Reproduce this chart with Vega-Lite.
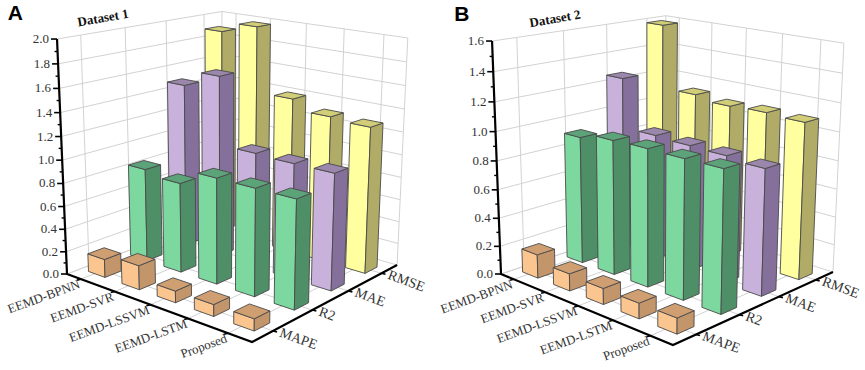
{
"$schema":"https://vega.github.io/schema/vega-lite/v6.json",
"width":865,"height":370,"padding":0,"background":"white",
"autosize":{"type":"fit","contains":"padding"},
"config":{"view":{"stroke":null}},
"data":{"values":[
{"panel":"A","kind":"edge","value":0},{"panel":"A","kind":"edge","value":1},
{"panel":"B","kind":"edge","value":0},{"panel":"B","kind":"edge","value":1},
{"panel":"A","kind":"axis"},{"panel":"B","kind":"axis"},
{"panel":"A","kind":"title","label":"Dataset 1"},{"panel":"B","kind":"title","label":"Dataset 2"},
{"panel":"A","kind":"letter","label":"A"},{"panel":"B","kind":"letter","label":"B"},
{"panel":"A","kind":"zgrid","value":0},{"panel":"A","kind":"zgrid","value":0.2},{"panel":"A","kind":"zgrid","value":0.4},{"panel":"A","kind":"zgrid","value":0.6},{"panel":"A","kind":"zgrid","value":0.8},{"panel":"A","kind":"zgrid","value":1.0},{"panel":"A","kind":"zgrid","value":1.2},{"panel":"A","kind":"zgrid","value":1.4},{"panel":"A","kind":"zgrid","value":1.6},{"panel":"A","kind":"zgrid","value":1.8},{"panel":"A","kind":"zgrid","value":2.0},
{"panel":"B","kind":"zgrid","value":0},{"panel":"B","kind":"zgrid","value":0.2},{"panel":"B","kind":"zgrid","value":0.4},{"panel":"B","kind":"zgrid","value":0.6},{"panel":"B","kind":"zgrid","value":0.8},{"panel":"B","kind":"zgrid","value":1.0},{"panel":"B","kind":"zgrid","value":1.2},{"panel":"B","kind":"zgrid","value":1.4},{"panel":"B","kind":"zgrid","value":1.6},
{"panel":"A","kind":"zminor","value":0.1},{"panel":"A","kind":"zminor","value":0.3},{"panel":"A","kind":"zminor","value":0.5},{"panel":"A","kind":"zminor","value":0.7},{"panel":"A","kind":"zminor","value":0.9},{"panel":"A","kind":"zminor","value":1.1},{"panel":"A","kind":"zminor","value":1.3},{"panel":"A","kind":"zminor","value":1.5},{"panel":"A","kind":"zminor","value":1.7},{"panel":"A","kind":"zminor","value":1.9},
{"panel":"B","kind":"zminor","value":0.1},{"panel":"B","kind":"zminor","value":0.3},{"panel":"B","kind":"zminor","value":0.5},{"panel":"B","kind":"zminor","value":0.7},{"panel":"B","kind":"zminor","value":0.9},{"panel":"B","kind":"zminor","value":1.1},{"panel":"B","kind":"zminor","value":1.3},{"panel":"B","kind":"zminor","value":1.5},
{"panel":"A","kind":"mgrid","method":"EEMD-BPNN"},{"panel":"A","kind":"mgrid","method":"EEMD-SVR"},{"panel":"A","kind":"mgrid","method":"EEMD-LSSVM"},{"panel":"A","kind":"mgrid","method":"EEMD-LSTM"},{"panel":"A","kind":"mgrid","method":"Proposed"},
{"panel":"B","kind":"mgrid","method":"EEMD-BPNN"},{"panel":"B","kind":"mgrid","method":"EEMD-SVR"},{"panel":"B","kind":"mgrid","method":"EEMD-LSSVM"},{"panel":"B","kind":"mgrid","method":"EEMD-LSTM"},{"panel":"B","kind":"mgrid","method":"Proposed"},
{"panel":"A","kind":"ngrid","metric":"MAPE"},{"panel":"A","kind":"ngrid","metric":"R2"},{"panel":"A","kind":"ngrid","metric":"MAE"},{"panel":"A","kind":"ngrid","metric":"RMSE"},
{"panel":"B","kind":"ngrid","metric":"MAPE"},{"panel":"B","kind":"ngrid","metric":"R2"},{"panel":"B","kind":"ngrid","metric":"MAE"},{"panel":"B","kind":"ngrid","metric":"RMSE"},
{"panel":"A","kind":"bar","method":"EEMD-BPNN","metric":"RMSE","value":1.89},{"panel":"A","kind":"bar","method":"EEMD-SVR","metric":"RMSE","value":1.98},{"panel":"A","kind":"bar","method":"EEMD-LSSVM","metric":"RMSE","value":1.40},{"panel":"A","kind":"bar","method":"EEMD-LSTM","metric":"RMSE","value":1.31},{"panel":"A","kind":"bar","method":"Proposed","metric":"RMSE","value":1.29},
{"panel":"A","kind":"bar","method":"EEMD-BPNN","metric":"MAE","value":1.48},{"panel":"A","kind":"bar","method":"EEMD-SVR","metric":"MAE","value":1.62},{"panel":"A","kind":"bar","method":"EEMD-LSSVM","metric":"MAE","value":1.02},{"panel":"A","kind":"bar","method":"EEMD-LSTM","metric":"MAE","value":1.01},{"panel":"A","kind":"bar","method":"Proposed","metric":"MAE","value":1.01},
{"panel":"A","kind":"bar","method":"EEMD-BPNN","metric":"R2","value":0.83},{"panel":"A","kind":"bar","method":"EEMD-SVR","metric":"R2","value":0.79},{"panel":"A","kind":"bar","method":"EEMD-LSSVM","metric":"R2","value":0.92},{"panel":"A","kind":"bar","method":"EEMD-LSTM","metric":"R2","value":0.92},{"panel":"A","kind":"bar","method":"Proposed","metric":"R2","value":0.92},
{"panel":"A","kind":"bar","method":"EEMD-BPNN","metric":"MAPE","value":0.16},{"panel":"A","kind":"bar","method":"EEMD-SVR","metric":"MAPE","value":0.21},{"panel":"A","kind":"bar","method":"EEMD-LSSVM","metric":"MAPE","value":0.10},{"panel":"A","kind":"bar","method":"EEMD-LSTM","metric":"MAPE","value":0.10},{"panel":"A","kind":"bar","method":"Proposed","metric":"MAPE","value":0.10},
{"panel":"B","kind":"bar","method":"EEMD-BPNN","metric":"RMSE","value":1.586},{"panel":"B","kind":"bar","method":"EEMD-SVR","metric":"RMSE","value":1.13},{"panel":"B","kind":"bar","method":"EEMD-LSSVM","metric":"RMSE","value":1.10},{"panel":"B","kind":"bar","method":"EEMD-LSTM","metric":"RMSE","value":1.11},{"panel":"B","kind":"bar","method":"Proposed","metric":"RMSE","value":1.10},
{"panel":"B","kind":"bar","method":"EEMD-BPNN","metric":"MAE","value":1.256},{"panel":"B","kind":"bar","method":"EEMD-SVR","metric":"MAE","value":0.906},{"panel":"B","kind":"bar","method":"EEMD-LSSVM","metric":"MAE","value":0.896},{"panel":"B","kind":"bar","method":"EEMD-LSTM","metric":"MAE","value":0.89},{"panel":"B","kind":"bar","method":"Proposed","metric":"MAE","value":0.87},
{"panel":"B","kind":"bar","method":"EEMD-BPNN","metric":"R2","value":0.906},{"panel":"B","kind":"bar","method":"EEMD-SVR","metric":"R2","value":0.946},{"panel":"B","kind":"bar","method":"EEMD-LSSVM","metric":"R2","value":0.953},{"panel":"B","kind":"bar","method":"EEMD-LSTM","metric":"R2","value":0.951},{"panel":"B","kind":"bar","method":"Proposed","metric":"R2","value":0.953},
{"panel":"B","kind":"bar","method":"EEMD-BPNN","metric":"MAPE","value":0.167},{"panel":"B","kind":"bar","method":"EEMD-SVR","metric":"MAPE","value":0.12},{"panel":"B","kind":"bar","method":"EEMD-LSSVM","metric":"MAPE","value":0.11},{"panel":"B","kind":"bar","method":"EEMD-LSTM","metric":"MAPE","value":0.105},{"panel":"B","kind":"bar","method":"Proposed","metric":"MAPE","value":0.105}
]},
"transform":[
{"calculate":"datum.panel=='A'?2:1.6","as":"zmax"},
{"calculate":"datum.value/datum.zmax","as":"h"},
{"calculate":"(indexof(['EEMD-BPNN','EEMD-SVR','EEMD-LSSVM','EEMD-LSTM','Proposed'],datum.method)+0.5)/5-0.015","as":"cu"},
{"calculate":"(indexof(['MAPE','R2','MAE','RMSE'],datum.metric)+0.5)/4","as":"cv"},
{"calculate":"datum.kind=='bar'?[{f:'front',k:0,a:-1,b:-1,c:0},{f:'front',k:1,a:1,b:-1,c:0},{f:'front',k:2,a:1,b:-1,c:1},{f:'front',k:3,a:-1,b:-1,c:1},{f:'front',k:4,a:-1,b:-1,c:0},{f:'side',k:0,a:1,b:-1,c:0},{f:'side',k:1,a:1,b:1,c:0},{f:'side',k:2,a:1,b:1,c:1},{f:'side',k:3,a:1,b:-1,c:1},{f:'side',k:4,a:1,b:-1,c:0},{f:'top',k:0,a:-1,b:-1,c:1},{f:'top',k:1,a:1,b:-1,c:1},{f:'top',k:2,a:1,b:1,c:1},{f:'top',k:3,a:-1,b:1,c:1},{f:'top',k:4,a:-1,b:-1,c:1}]:datum.kind=='zgrid'?[{k:0,u:0,v:0,w:datum.h},{k:1,u:0,v:1,w:datum.h},{k:2,u:1,v:1,w:datum.h}]:datum.kind=='zminor'?[{k:0,u:0,v:0,w:datum.h}]:datum.kind=='mgrid'?[{k:0,u:datum.cu,v:0,w:0},{k:1,u:datum.cu,v:1,w:0},{k:2,u:datum.cu,v:1,w:1}]:datum.kind=='ngrid'?[{k:0,u:1,v:datum.cv,w:0},{k:1,u:0,v:datum.cv,w:0},{k:2,u:0,v:datum.cv,w:1}]:datum.kind=='edge'?[{k:0,u:datum.value,v:0,w:0},{k:1,u:datum.value,v:1,w:0},{k:2,u:datum.value,v:1,w:1}]:datum.kind=='axis'?[{k:0,u:0,v:0,w:1},{k:1,u:0,v:0,w:0},{k:2,u:1,v:0,w:0},{k:3,u:1,v:1,w:0}]:datum.kind=='title'?[{k:0,u:0,v:datum.panel=='A'?0.25:0.33,w:1.055}]:[{k:0,u:0,v:datum.panel=='A'?-0.2:-0.139,w:1.12}]","as":"verts"},
{"flatten":["verts"]},
{"calculate":"datum.kind=='bar'?datum.cu+0.012+datum.verts.a*0.05:datum.verts.u","as":"u"},
{"calculate":"datum.kind=='bar'?datum.cv+datum.verts.b*0.047:datum.verts.v","as":"v"},
{"calculate":"datum.kind=='bar'?datum.verts.c*datum.h:datum.verts.w","as":"w"},
{"calculate":"datum.verts.k","as":"k"},
{"calculate":"datum.panel=='A'?{ox:67,oy:274,ax:152.8,ay:24.3,bx:191.2,by:-24,cx:-13.4,cy:-237.3,a:-0.128,b:0.163,c:-0.06}:{ox:501,oy:274,ax:80.7,ay:24.2,bx:265.7,by:-21.5,cx:-37,cy:-235.3,a:-0.1356,b:0.1529,c:-0.057}","as":"P"},
{"calculate":"1+datum.u*datum.P.a+datum.v*datum.P.b+datum.w*datum.P.c","as":"D"},
{"calculate":"(datum.P.ox+datum.u*datum.P.ax+datum.v*datum.P.bx+datum.w*datum.P.cx)/datum.D","as":"sx"},
{"calculate":"(datum.P.oy+datum.u*datum.P.ay+datum.v*datum.P.by+datum.w*datum.P.cy)/datum.D","as":"sy"},
{"calculate":"datum.panel+datum.kind+datum.method+datum.metric+datum.value+datum.verts.f","as":"gid"},
{"calculate":"datum.metric+'|'+datum.verts.f","as":"ck"}
],
"encoding":{
"x":{"field":"sx","type":"quantitative","scale":{"domain":[0,865],"nice":false,"zero":false},"axis":null},
"y":{"field":"sy","type":"quantitative","scale":{"domain":[370,0],"nice":false,"zero":false},"axis":null}
},
"layer":[
{"transform":[{"filter":"datum.kind=='zgrid'||datum.kind=='mgrid'||datum.kind=='ngrid'||datum.kind=='edge'"}],
 "mark":{"type":"line","strokeWidth":1,"interpolate":"linear"},
 "encoding":{"stroke":{"value":"#d2d2d2"},"detail":{"field":"gid"},"order":{"field":"k","type":"quantitative"}}},
{"transform":[{"filter":"datum.kind=='axis'"}],
 "mark":{"type":"line","strokeWidth":2.2},
 "encoding":{"stroke":{"value":"#000000"},"detail":{"field":"gid"},"order":{"field":"k","type":"quantitative"}}},
{"transform":[{"filter":"datum.kind=='bar'"}],
 "mark":{"type":"line","strokeWidth":0.9,"strokeJoin":"round"},
 "encoding":{
  "fill":{"field":"ck","type":"nominal","legend":null,"scale":{
   "domain":["MAPE|front","MAPE|side","MAPE|top","R2|front","R2|side","R2|top","MAE|front","MAE|side","MAE|top","RMSE|front","RMSE|side","RMSE|top"],
   "range":["#FBC58F","#C3956B","#CF9F72","#7DD8A0","#4E8F68","#5CA37A","#C8B1DA","#84709A","#9B86AC","#FFFFA0","#B0AC68","#D2CE78"]}},
  "stroke":{"value":"#4a4a4a"},"detail":{"field":"gid"},"order":{"field":"k","type":"quantitative"}}},
{"transform":[{"filter":"datum.kind=='zgrid'&&datum.k==0"},{"calculate":"datum.sx-6","as":"tx"}],
 "mark":{"type":"rule","strokeWidth":1.6,"color":"#000"},"encoding":{"x2":{"field":"tx"}}},
{"transform":[{"filter":"datum.kind=='zminor'"},{"calculate":"datum.sx-3","as":"tx"}],
 "mark":{"type":"rule","strokeWidth":1.4,"color":"#000"},"encoding":{"x2":{"field":"tx"}}},
{"transform":[{"filter":"datum.kind=='mgrid'&&datum.k==0"},{"calculate":"datum.sx-4","as":"tx"},{"calculate":"datum.sy+1","as":"ty"}],
 "mark":{"type":"rule","strokeWidth":1.6,"color":"#000"},"encoding":{"x2":{"field":"tx"},"y2":{"field":"ty"}}},
{"transform":[{"filter":"datum.kind=='ngrid'&&datum.k==0"},{"calculate":"datum.sx+4","as":"tx"},{"calculate":"datum.sy+1","as":"ty"}],
 "mark":{"type":"rule","strokeWidth":1.6,"color":"#000"},"encoding":{"x2":{"field":"tx"},"y2":{"field":"ty"}}},
{"transform":[{"filter":"datum.kind=='zgrid'&&datum.k==0"}],
 "mark":{"type":"text","font":"Liberation Serif","fontSize":13,"align":"right","baseline":"middle","dx":-8,"color":"#333"},
 "encoding":{"text":{"field":"value","type":"quantitative","format":".1f"}}},
{"transform":[{"filter":"datum.kind=='mgrid'&&datum.k==0"}],
 "mark":{"type":"text","font":"Liberation Serif","fontSize":13,"align":"right","baseline":"middle","dx":-3,"dy":4,"angle":340,"color":"#333"},
 "encoding":{"text":{"field":"method","type":"nominal"}}},
{"transform":[{"filter":"datum.kind=='ngrid'&&datum.k==0"}],
 "mark":{"type":"text","font":"Liberation Serif","fontSize":14,"align":"left","baseline":"middle","dx":7,"dy":-1,"angle":20,"color":"#333"},
 "encoding":{"text":{"field":"metric","type":"nominal"}}},
{"transform":[{"filter":"datum.kind=='title'"}],
 "mark":{"type":"text","font":"Liberation Serif","fontWeight":"bold","fontSize":13,"align":"center","baseline":"middle","angle":350,"color":"#111"},
 "encoding":{"text":{"field":"label","type":"nominal"}}},
{"transform":[{"filter":"datum.kind=='letter'"}],
 "mark":{"type":"text","font":"Liberation Sans","fontWeight":"bold","fontSize":21,"align":"center","baseline":"middle","color":"#000"},
 "encoding":{"text":{"field":"label","type":"nominal"}}}
]
}
